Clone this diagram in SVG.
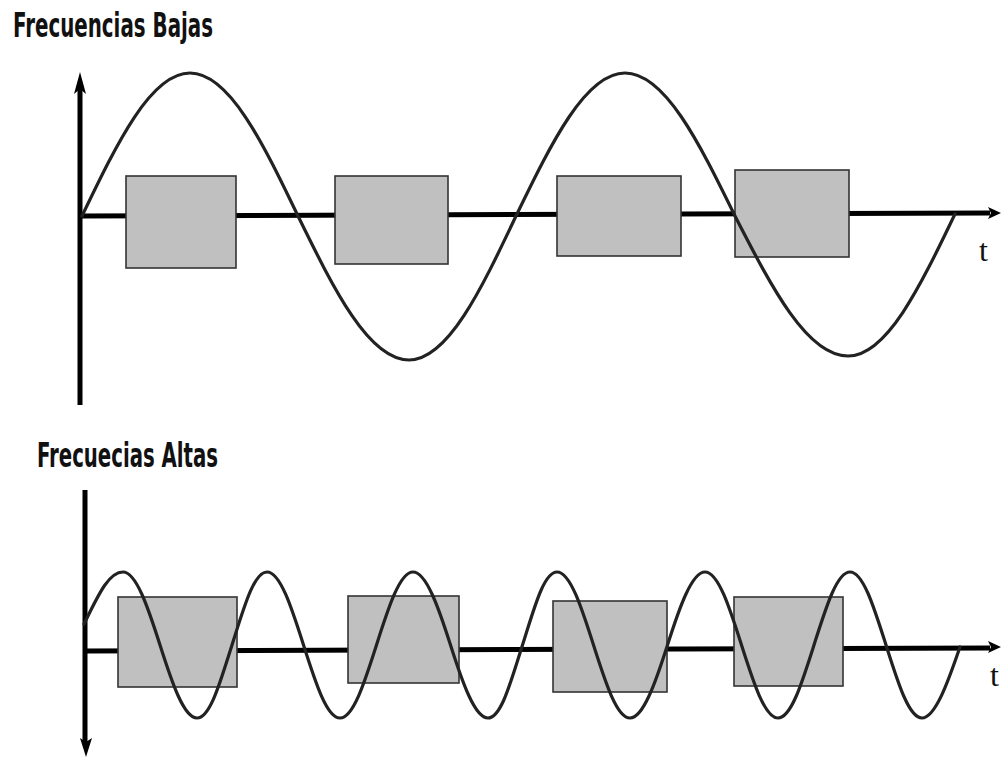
<svg xmlns="http://www.w3.org/2000/svg" width="1002" height="758" viewBox="0 0 1002 758">
<style>
.title{font-family:"DejaVu Sans Condensed","DejaVu Sans",sans-serif;font-weight:bold;font-size:34px;fill:#111}
.tl{font-family:"Liberation Serif",serif;font-size:32px;fill:#111}
.axis{stroke:#000;stroke-width:5;fill:none}
.box{fill:#c0c0c0;stroke:#333;stroke-width:1.6}
.wave{fill:none;stroke:#222;stroke-width:3.2;stroke-linecap:round}
.head{fill:#000}
</style>
<rect width="1002" height="758" fill="#fff"/>
<g id="titles">
<text class="title" x="13" y="37" textLength="200" lengthAdjust="spacingAndGlyphs">Frecuencias Bajas</text>
<text class="title" x="37" y="467" textLength="181" lengthAdjust="spacingAndGlyphs">Frecuecias Altas</text>
</g>
<g id="top-axes">
<line class="axis" x1="80" y1="88" x2="80" y2="405"/>
<polygon class="head" points="80,72 86,94 80,89 74,94"/>
<line class="axis" x1="80" y1="216" x2="990" y2="213"/>
<polygon class="head" points="1001,213 988,207 991,213 988,219"/>
<text class="tl" x="979" y="261">t</text>
</g>
<g id="top-boxes">
<rect class="box" x="126" y="176" width="110" height="92"/>
<rect class="box" x="335" y="176" width="113" height="88"/>
<rect class="box" x="557" y="176" width="124" height="80"/>
<rect class="box" x="735" y="170" width="114" height="87"/>
</g>
<g id="top-wave">
<path class="wave" d="M82,216 C117.2,142.7 150.9,73 190,73 C229.1,73 262.8,142.7 298,216 C334.2,289.8 368.8,360 409,360 C447.7,360 481.1,289.8 516,216 C551.5,142.7 585.6,73 625,73 C664.8,73 699.1,142.7 735,216 C771.8,287.7 807.1,356 848,356 C886.7,356 920.1,286.7 955,214"/>
</g>
<g id="bottom-axes">
<line class="axis" x1="85" y1="490" x2="85" y2="745"/>
<polygon class="head" points="86,757 80,738 86,742 92,738"/>
<line class="axis" x1="85" y1="651" x2="990" y2="648"/>
<polygon class="head" points="1001,647 988,641 991,647 988,653"/>
<text class="tl" x="990" y="686">t</text>
</g>
<g id="bottom-boxes">
<rect class="box" x="118" y="597" width="119" height="90"/>
<rect class="box" x="348" y="596" width="111" height="87"/>
<rect class="box" x="553" y="601" width="114" height="91"/>
<rect class="box" x="734" y="597" width="109" height="89"/>
</g>
<g id="bottom-wave">
<path class="wave" d="M84,624 C97,598 108,572 123,572 C136.2,572 148.1,607.6 160,645 C171.9,682.4 183.8,718 197,718 C210.2,718 220.1,682.4 232,645 C243.9,607.6 253.8,572 267,572 C280.2,572 291.6,607.6 303.5,645 C315.4,682.4 326.8,718 340,718 C353.2,718 364.6,682.4 376.5,645 C388.4,607.6 399.8,572 413,572 C426.2,572 438.6,607.6 450.5,645 C462.4,682.4 474.8,718 488,718 C501.2,718 510.6,682.4 522.5,645 C534.4,607.6 543.8,572 557,572 C570.2,572 581.6,607.6 593.5,645 C605.4,682.4 616.8,718 630,718 C643.2,718 655.6,682.4 667.5,645 C679.4,607.6 691.8,572 705,572 C718.2,572 729.6,607.6 741.5,645 C753.4,682.4 764.8,718 778,718 C791.2,718 802.1,682.4 814,645 C825.9,607.6 836.8,572 850,572 C863.2,572 874.1,607.6 886,645 C897.9,682.4 908.8,718 922,718 C935.2,718 948,682 960,647"/>
</g>
</svg>
